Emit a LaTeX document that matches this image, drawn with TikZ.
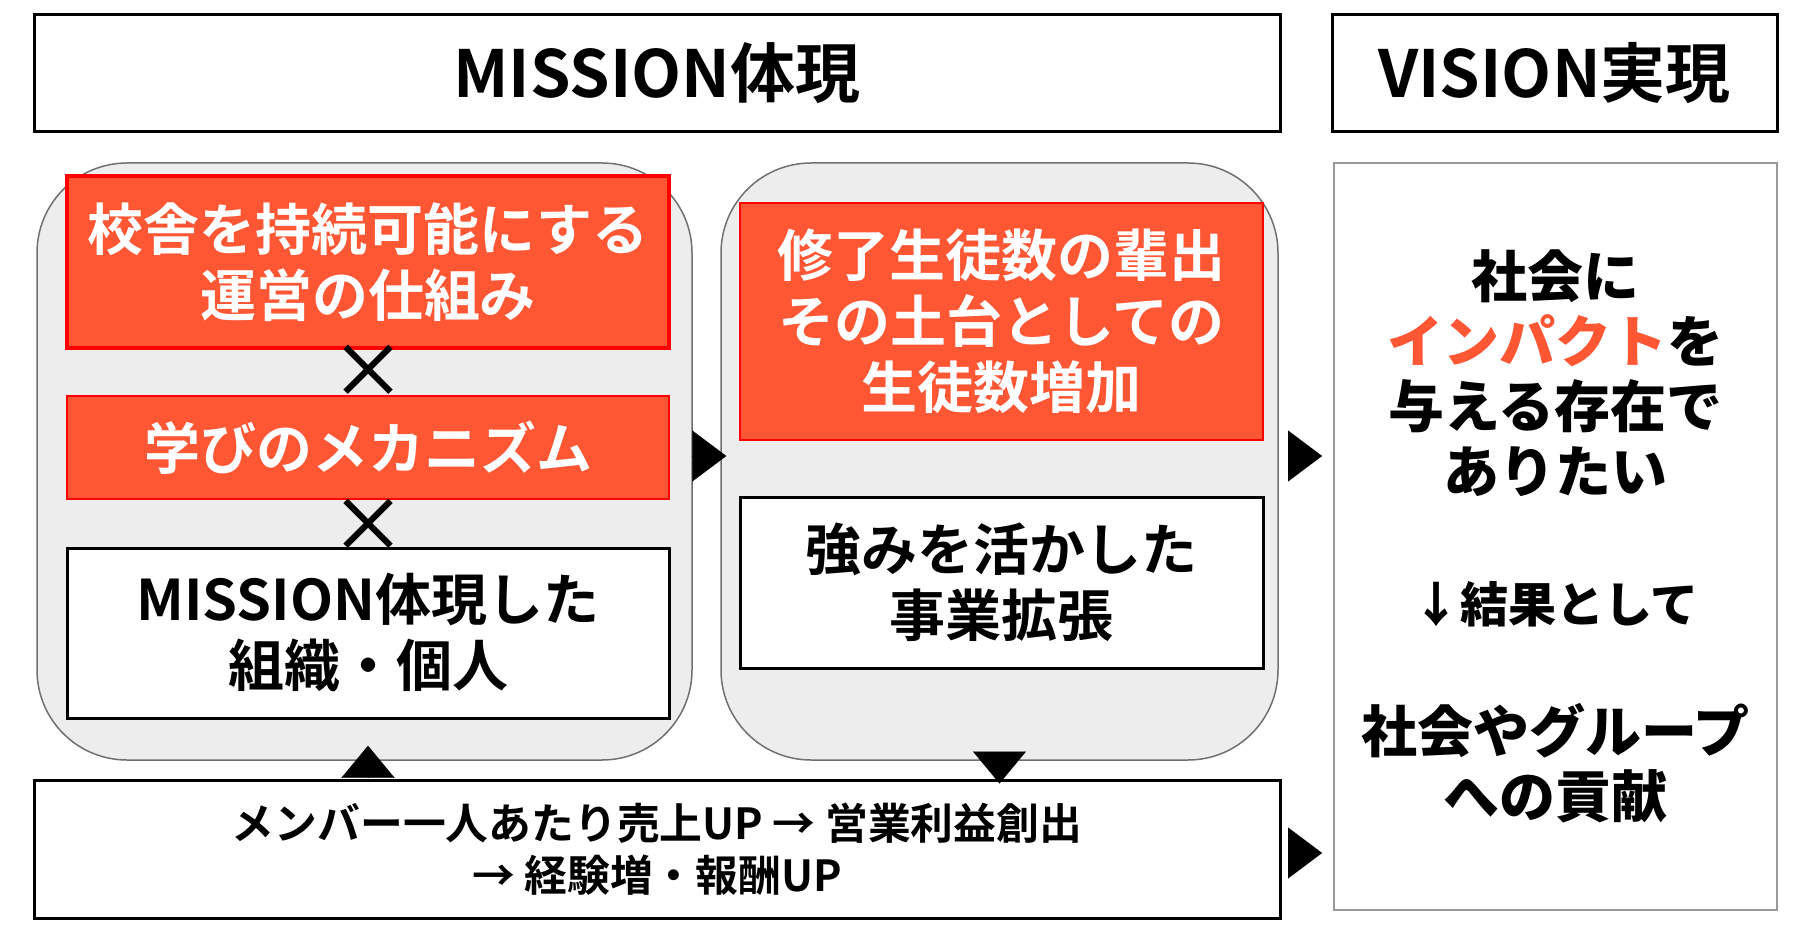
\documentclass[tikz,border=0pt]{standalone}
\usepackage{fontspec}
\setmainfont{Noto Sans CJK JP Bold}
\newfontfamily\jpblack{Noto Sans CJK JP Black}
\newfontfamily\jpmedium{Noto Sans CJK JP Medium}
\usetikzlibrary{arrows.meta}

\definecolor{boxred}{HTML}{FF5634}
\definecolor{edgered}{HTML}{FF0000}
\definecolor{groupfill}{HTML}{EDEDED}
\definecolor{groupedge}{HTML}{707070}
\definecolor{frameedge}{HTML}{999999}
\newcommand\fsz[2]{\fontsize{#1}{#2}\selectfont}

\tikzset{
  headbox/.style={draw=black, fill=white, line width=1.5pt, inner sep=0pt,
    minimum height=58.5pt, font=\fsz{32.5pt}{38pt}},
  groupbox/.style={draw=groupedge, fill=groupfill, line width=0.75pt,
    rounded corners=45pt, inner sep=0pt, minimum height=298.5pt},
  redbox/.style={draw=edgered, fill=boxred, line width=1.2pt, text=white,
    align=center, inner sep=0pt, font=\fsz{28pt}{33pt}},
  whitebox/.style={draw=black, fill=white, line width=1.5pt, align=center,
    inner sep=0pt, font=\fsz{28pt}{33pt}},
  mult/.style={inner sep=0pt, font=\jpmedium\fsz{38pt}{38pt}},
  flowright/.style={-{Triangle[length=17pt,width=25.5pt]}, line width=0.1pt},
  flowvert/.style={-{Triangle[length=16pt,width=26.5pt]}, line width=0.1pt}
}

\begin{document}
\begin{tikzpicture}[x=0.5pt,y=-0.5pt]
\useasboundingbox (0,0) rectangle (1800,936);

% headings
\node[headbox, minimum width=623pt] (mhead) at (657,73.5) {MISSION体現};
\node[headbox, minimum width=222.5pt] (vhead) at (1554.5,73.5) {VISION実現};

% grouped panels
\node[groupbox, minimum width=327.5pt] (lgroup) at (364.5,461.5) {};
\node[groupbox, minimum width=278.5pt] (mgroup) at (999.5,461.5) {};

% left panel
\node[redbox, line width=2pt, minimum width=301pt, minimum height=86pt] (r1) at (368,262)
  {校舎を持続可能にする\\運営の仕組み};
\node[mult] (x1) at (368,372) {×};
\node[redbox, minimum width=301pt, minimum height=51.5pt] (r2) at (368,447.5)
  {学びのメカニズム};
\node[mult] (x2) at (368,526) {×};
\node[whitebox, minimum width=301pt, minimum height=85pt] (w1) at (368,633)
  {MISSION体現した\\組織・個人};

% middle panel
\node[redbox, minimum width=261.5pt, minimum height=118.5pt] (r3) at (1001.5,321.5)
  {修了生徒数の輩出\\その土台としての\\生徒数増加};
\node[whitebox, minimum width=261.5pt, minimum height=85.5pt] (w2) at (1001.5,582.5)
  {強みを活かした\\事業拡張};

% bottom strip
\node[whitebox, minimum width=623pt, minimum height=69pt, font=\fsz{21.4pt}{26pt}] (base) at (657,849)
  {メンバー一人あたり売上UP → 営業利益創出\\→ 経験増・報酬UP};

% vision panel
\node[draw=frameedge, fill=white, line width=1pt, inner sep=0pt, align=center,
      minimum width=221.5pt, minimum height=373.5pt, font=\jpblack\fsz{28pt}{32.5pt}]
  (vbody) at (1555.5,536.5)
  {社会に\\{\color{boxred}インパクト}を\\与える存在で\\ありたい\\[32.5pt]%
   {\fsz{24pt}{32.5pt}↓結果として}\\[32.5pt]社会やグループ\\への貢献};

% flow markers
\draw[flowright, shorten >=-3pt]
  ([yshift=2.75pt]lgroup.east) -- ([yshift=2.75pt]lgroup.east -| mgroup.west);
\draw[flowright, shorten <=5.5pt, shorten >=5.5pt]
  ([yshift=2.75pt]mgroup.east) -- ([yshift=2.75pt]mgroup.east -| vbody.west);
\draw[flowright, shorten <=5.5pt, shorten >=5.5pt]
  ([yshift=-2pt]base.east) -- ([yshift=-2pt]base.east -| vbody.west);
\draw[flowvert] ([yshift=1.5pt]base.north -| w1.south) -- ([yshift=7.5pt]lgroup.south -| w1.south);
\draw[flowvert] ([yshift=3pt]mgroup.south) -- ([yshift=-2.5pt]base.north -| mgroup.south);
\end{tikzpicture}
\end{document}
